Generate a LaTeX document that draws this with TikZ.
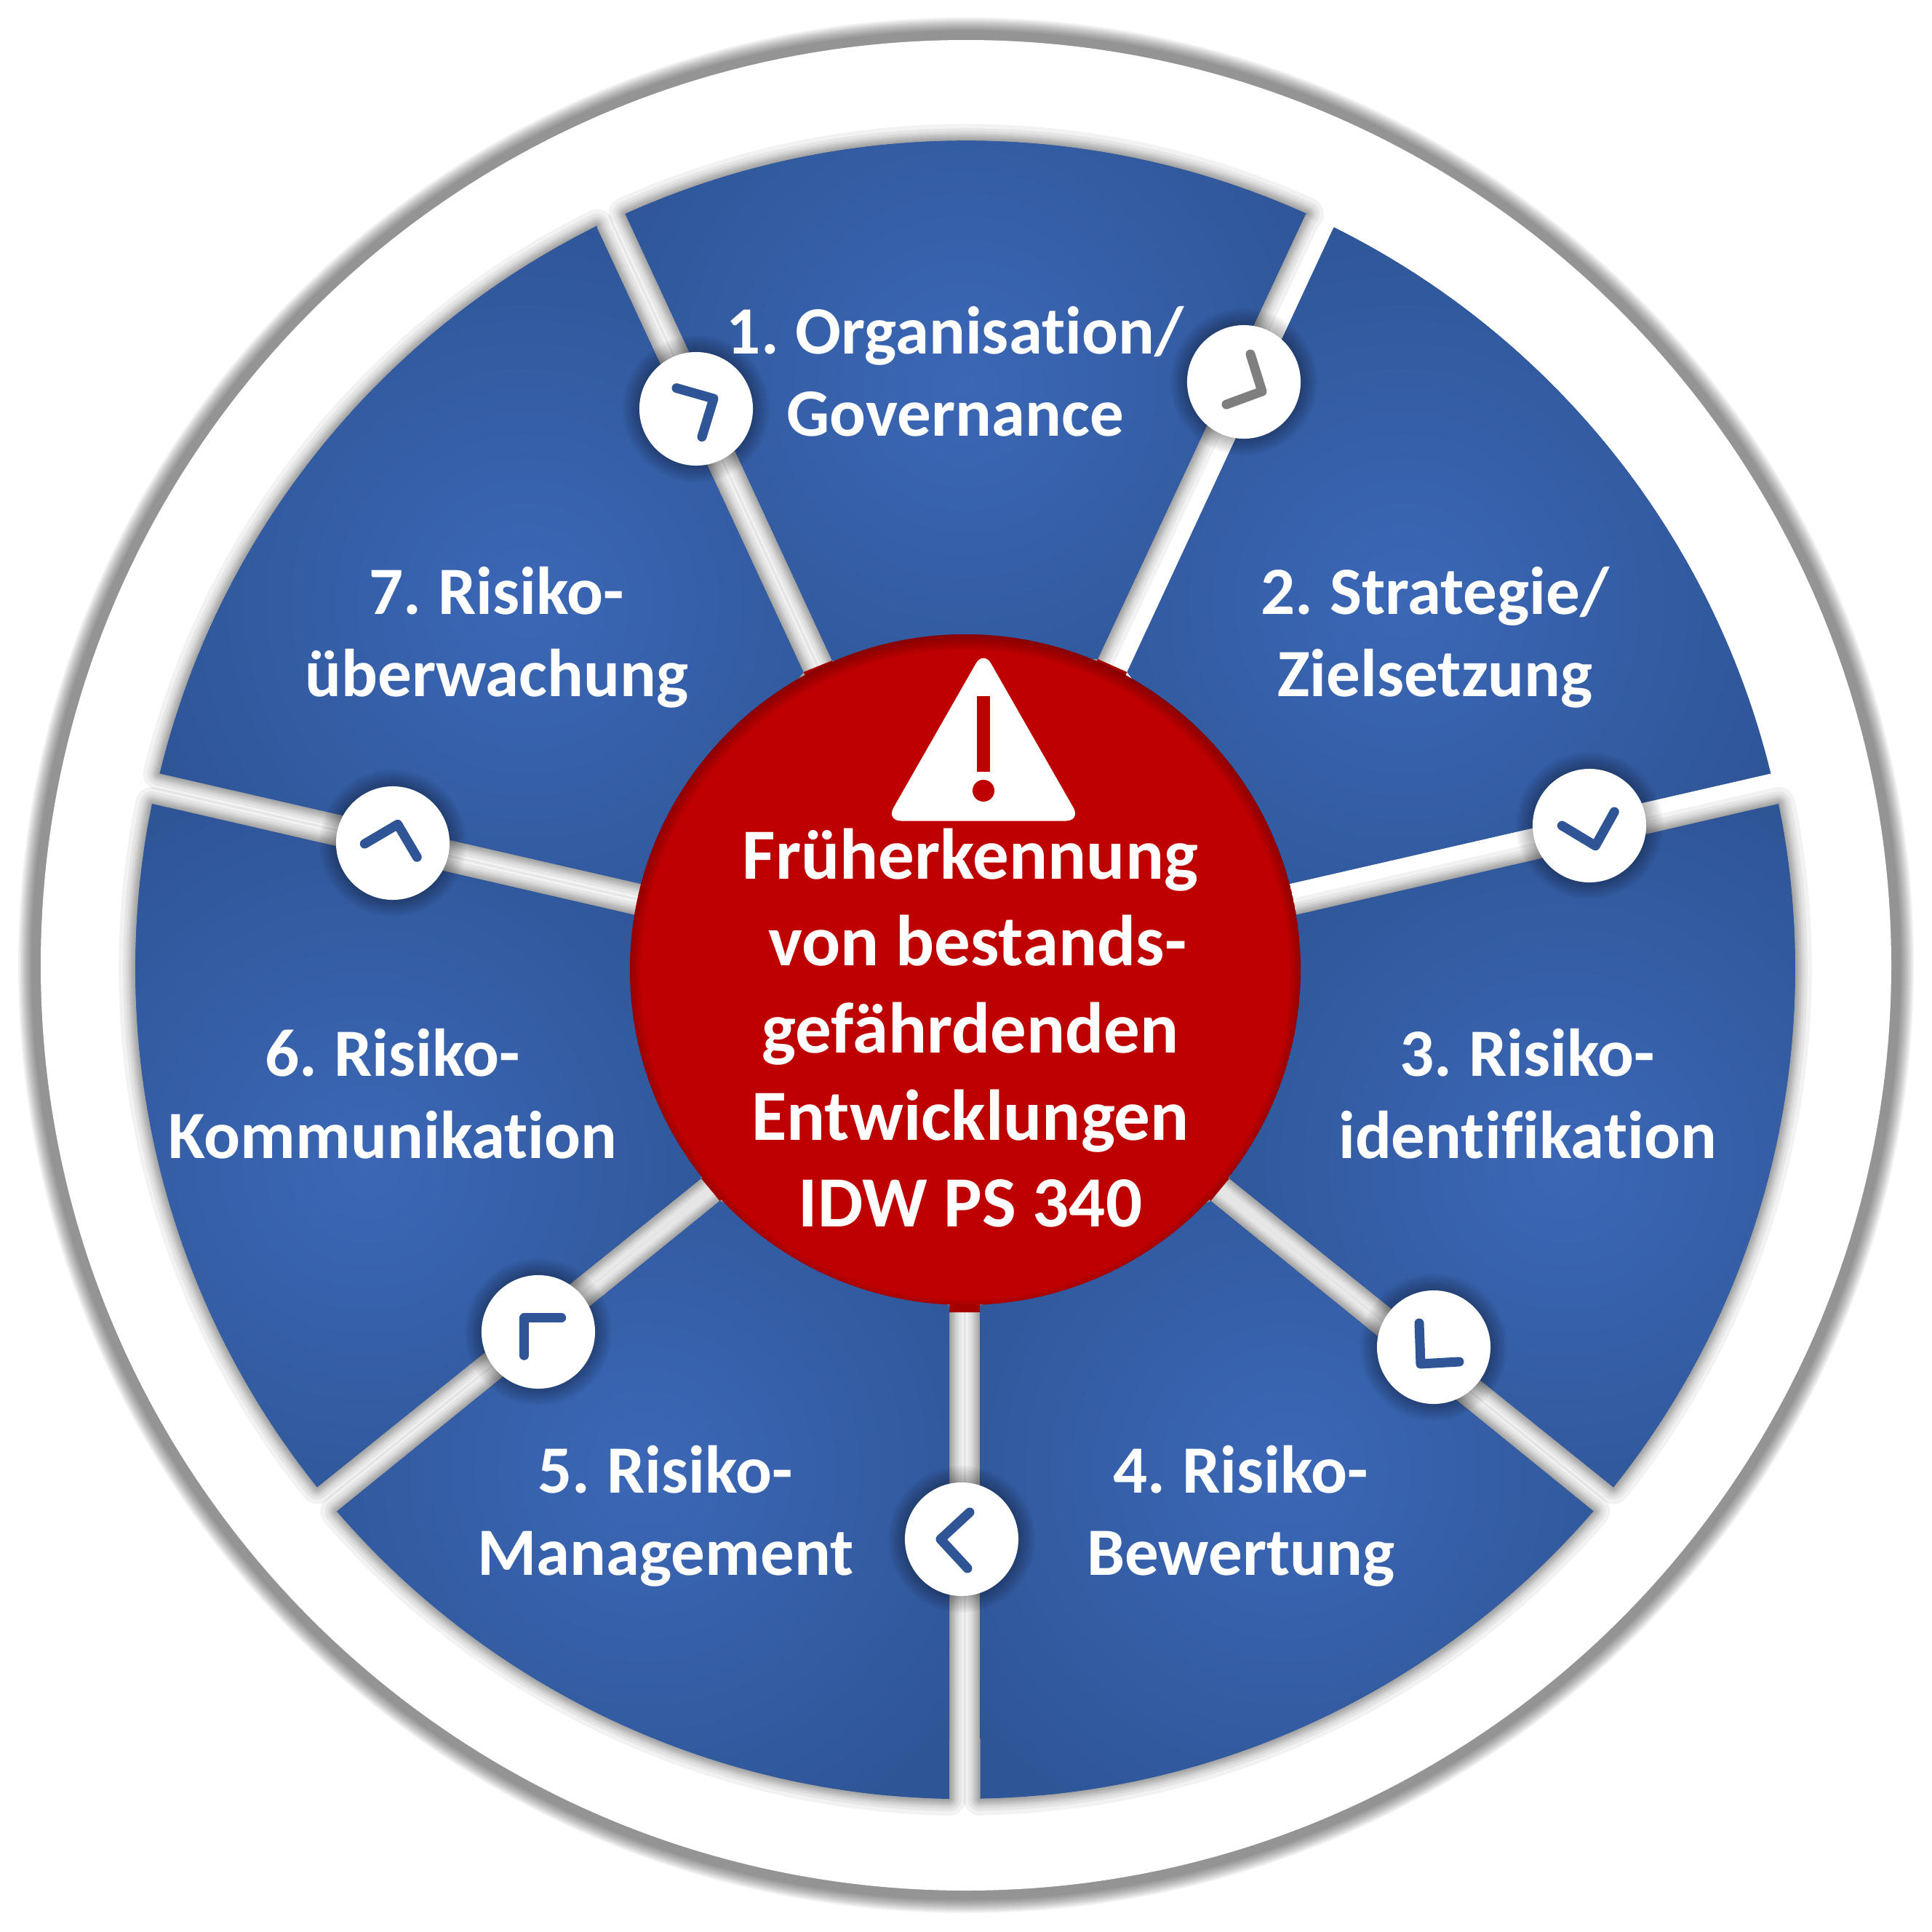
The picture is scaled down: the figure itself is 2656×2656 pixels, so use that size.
\documentclass[tikz,border=0pt]{standalone}
\usepackage{fontspec}
\setmainfont{Carlito}[Ligatures=NoCommon]
\newfontfamily\seclabelfont{Carlito}[Ligatures=NoCommon,WordSpace=0.75]
\definecolor{secin}{HTML}{3B67B6}
\definecolor{secout}{HTML}{2E5596}
\definecolor{iconblue}{HTML}{2F5597}
\definecolor{redmain}{HTML}{BE0000}
\definecolor{redstem}{HTML}{A50000}
\definecolor{handgray}{HTML}{7F7F7F}
\pgfdeclareradialshading{sectorglow}{\pgfpointorigin}{color(0bp)=(secin); color(25bp)=(secout); color(50bp)=(secout)}
\tikzset{
  seclabel/.style={text=white,align=center,inner sep=0pt,font=\seclabelfont\fontsize{0.93cm}{1.13cm}\selectfont\bfseries},
  centerlabel/.style={text=white,align=center,inner sep=0pt,font=\fontsize{0.99cm}{1.195cm}\selectfont\bfseries},
  knob/.style={circle,fill=white,minimum size=1.56cm,inner sep=0pt},
  hand/.style={line width=0.13cm,line cap=round,line join=round},
}
\newcommand\secshape{(\ix,\iy) -- (\ox,\oy) arc[start angle=\sa,end angle=\ea,radius=1141] -- (\px,\py) -- (\jx,\jy) -- cycle}
\newcommand\secangles{%
  \pgfmathsetmacro\sa{atan2(\oy-1332,\ox-1327)}%
  \pgfmathsetmacro\ea{atan2(\py-1332,\px-1327)}%
  \pgfmathsetmacro\ea{\ea<\sa?\ea+360:\ea}%
}
\begin{document}
\begin{tikzpicture}[x=0.01cm,y=0.01cm,yscale=-1]
\useasboundingbox (0,0) rectangle (2656,2656);
\fill[white] (0,0) rectangle (2656,2656);
% outer disc with soft rim
\foreach \e in {31,29,27,25,23,21,19,17,15,13}{
  \fill[black,opacity=0.05] (1328,1327) circle[radius=1272+\e];
}
\fill[white] (1328,1327) circle[radius=1272];
% sector shadows (the second sector has none)
\foreach \ix/\iy/\ox/\oy/\px/\py/\jx/\jy in {
  1144/908/859.6/294/1795/294/1509/906,
  1781/1258/2445/1105/2218/2044.4/1690/1620,
  1664.4/1651/2190.4/2077.4/1347.7/2473/1347.7/1795,
  1305/1795/1305/2473/463.6/2077.4/989.6/1651,
  964/1620/436/2044.4/209/1105/873/1258,
  881.3/1215/219.7/1063.3/820.3/312.5/1104.5/924}{
  \secangles
  \foreach \w in {4,8,12,16,20,26,34,46}{
    \draw[black,opacity=0.05,line width=\w*0.01cm,line join=round] \secshape;
  }
}
% red ends of the gaps
\fill[redstem] (1509,906) -- (1549.5,924) -- (1327,1333) -- cycle;
\fill[redstem] (1772.7,1215) -- (1781,1258) -- (1327,1333) -- cycle;
\fill[redstem] (1690,1620) -- (1664.4,1651) -- (1327,1333) -- cycle;
\fill[redstem] (1347.7,1804) -- (1305,1804) -- (1327,1333) -- cycle;
\fill[redstem] (989.6,1651) -- (964,1620) -- (1327,1333) -- cycle;
\fill[redstem] (873,1258) -- (881.3,1215) -- (1327,1333) -- cycle;
\fill[redstem] (1104.5,924) -- (1144,908) -- (1327,1333) -- cycle;
% sectors
\foreach \ix/\iy/\ox/\oy/\px/\py/\jx/\jy/\gx/\gy in {
  1144/908/859.6/294/1795/294/1509/906/1326/530,
  1549.5/924/1833.7/312.5/2434.3/1063.3/1772.7/1215/1930/830,
  1781/1258/2445/1105/2218/2044.4/1690/1620/2150/1600,
  1664.4/1651/2190.4/2077.4/1347.7/2473/1347.7/1795/1768/2020,
  1305/1795/1305/2473/463.6/2077.4/989.6/1651/886/2020,
  964/1620/436/2044.4/209/1105/873/1258/504/1600,
  881.3/1215/219.7/1063.3/820.3/312.5/1104.5/924/724/830}{
  \secangles
  \begin{scope}
    \clip \secshape;
    \fill[secout] (0,0) rectangle (2656,2656);
    \shade[shading=sectorglow] (\gx,\gy) circle[radius=560];
  \end{scope}
}
% centre disc with inner shadow
\begin{scope}
  \clip (1327,1333) circle[radius=461];
  \fill[redmain] (1327,1333) circle[radius=461];
  \foreach \t in {3,6,9,12,15,18,21}{
    \draw[black,opacity=0.045,line width=2*\t*0.01cm] (1327,1340) circle[radius=468];
  }
\end{scope}
% warning sign
\fill[white,rounded corners=0.21cm] (1352,894) -- (1486,1128.5) -- (1218,1128.5) -- cycle;
\fill[redmain] (1343.3,957) rectangle (1361,1061);
\fill[redmain] (1352,1087) circle[radius=15];
% knob shadows
\foreach \x/\y in {957/562,1710/525,2185/1135,1971/1852,1322/2116,740/1831,540/1159}{
  \foreach \e in {2,5,...,23}{
    \fill[black,opacity=0.04] (\x,\y) circle[radius=78+\e];
  }
}
% knobs
\node[knob] (k1) at (957,562) {};
\node[knob] (k2) at (1710,525) {};
\node[knob] (k3) at (2185,1135) {};
\node[knob] (k4) at (1971,1852) {};
\node[knob] (k5) at (1322,2116) {};
\node[knob] (k6) at (740,1831) {};
\node[knob] (k7) at (540,1159) {};
% hands
\draw[hand,iconblue] (930,533.5) -- (981,548) -- (965,600.5);
\draw[hand,handgray] (1719,487) -- (1735,538) -- (1686,556);
\draw[hand,iconblue] (2147.3,1135) -- (2193.3,1162.7) -- (2219.3,1116);
\draw[hand,iconblue] (1951,1819) -- (1953,1875) -- (2006,1872);
\draw[hand,iconblue] (1333,2079) -- (1293,2116) -- (1330,2156);
\draw[hand,iconblue] (720.7,1863.3) -- (720.7,1811.7) -- (771.7,1811.7);
\draw[hand,iconblue] (501.3,1160) -- (546.7,1133.3) -- (573.3,1178.3);
% labels
\node[seclabel] (t1) at (1313,511) {1. Organisation/\\Governance};
\node[seclabel] (t2) at (1973,876) {2. Strategie/\\Zielsetzung};
\node[seclabel] (t3) at (2100,1504) {3. Risiko-\\identifikation};
\node[seclabel] (t4) at (1706,2084) {4. Risiko-\\Bewertung};
\node[seclabel] (t5) at (915,2084) {5. Risiko-\\Management};
\node[seclabel] (t6) at (540,1504) {6. Risiko-\\Kommunikation};
\node[seclabel] (t7) at (683,876) {7. Risiko-\\überwachung};
\node[centerlabel] (tc) at (1334,1413) {Früherkennung\\\hspace*{0.2cm}von bestands-\\gefährdenden\\Entwicklungen\\IDW PS 340};
\end{tikzpicture}
\end{document}
